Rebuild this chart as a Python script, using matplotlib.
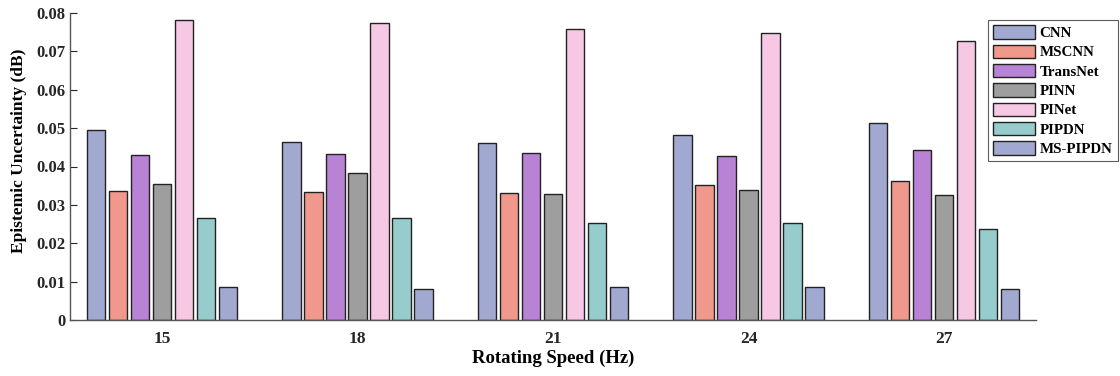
import matplotlib
matplotlib.use("Agg")
import matplotlib.pyplot as plt
import numpy as np

plt.rcParams['font.family'] = ['Liberation Serif', 'DejaVu Serif']
plt.rcParams['font.weight'] = 'bold'

speeds = ['15', '18', '21', '24', '27']
models = ['CNN', 'MSCNN', 'TransNet', 'PINN', 'PINet', 'PIPDN', 'MS-PIPDN']
cnn      = [0.0494, 0.0463, 0.0462, 0.0483, 0.0514]
mscnn    = [0.0336, 0.0333, 0.0330, 0.0353, 0.0362]
transnet = [0.0431, 0.0433, 0.0435, 0.0427, 0.0443]
pinn     = [0.0355, 0.0382, 0.0329, 0.0340, 0.0327]
pinet    = [0.0782, 0.0775, 0.0759, 0.0748, 0.0728]
pipdn    = [0.0266, 0.0267, 0.0252, 0.0253, 0.0236]
mspipdn  = [0.0086, 0.0081, 0.0086, 0.0085, 0.0082]
series = [cnn, mscnn, transnet, pinn, pinet, pipdn, mspipdn]
colors = ['#A2A9D0', '#F0988C', '#B883D4', '#9E9E9E', '#F6C8E4', '#96CCCB', '#A2A9D0']

fig = plt.figure(figsize=(11.2, 3.76), dpi=100)
ax = fig.add_axes([70/1120, 1-320/376, (1036-70)/1120, (320-13)/376])

x = np.arange(1, len(speeds)+1)
pitch = 0.1125
width = 0.093
for i, (vals, c, name) in enumerate(zip(series, colors, models)):
    ax.bar(x + (i-3)*pitch, vals, width, color=c, edgecolor='#222222',
           linewidth=1.0, label=name)

ax.set_xlim(0.53, 5.47)
ax.set_ylim(0, 0.08)
ax.set_yticks(np.arange(0, 0.081, 0.01))
ax.set_yticklabels(['0'] + [f'{v:.2f}' for v in np.arange(0.01, 0.081, 0.01)])
ax.set_xticks(x)
ax.set_xticklabels(speeds)
ax.tick_params(axis='y', direction='in', length=5, labelsize=12, colors='#262626', width=0.8)
ax.tick_params(axis='x', length=0, labelsize=12.5, colors='#262626', pad=8)
for s in ['top', 'right']:
    ax.spines[s].set_visible(False)
for s in ['left', 'bottom']:
    ax.spines[s].set_color('#555555')
    ax.spines[s].set_linewidth(1.0)
ax.set_xlabel('Rotating Speed (Hz)', fontsize=13.5, fontweight='bold', labelpad=2)
ax.set_ylabel('Epistemic Uncertainty (dB)', fontsize=12.5, fontweight='bold')
ax.yaxis.set_label_coords(-0.045, 0.55)

leg = fig.legend(loc='upper left', bbox_to_anchor=(988/1120, 1-20/376),
                 fontsize=10.8, frameon=True, fancybox=False, edgecolor='#333333',
                 handlelength=2.8, handleheight=1.0, handletextpad=0.3,
                 labelspacing=0.3, borderpad=0.35, borderaxespad=0)
leg.get_frame().set_linewidth(0.8)
for t in leg.get_texts():
    t.set_fontweight('bold')

fig.savefig('out.png', dpi=100)
